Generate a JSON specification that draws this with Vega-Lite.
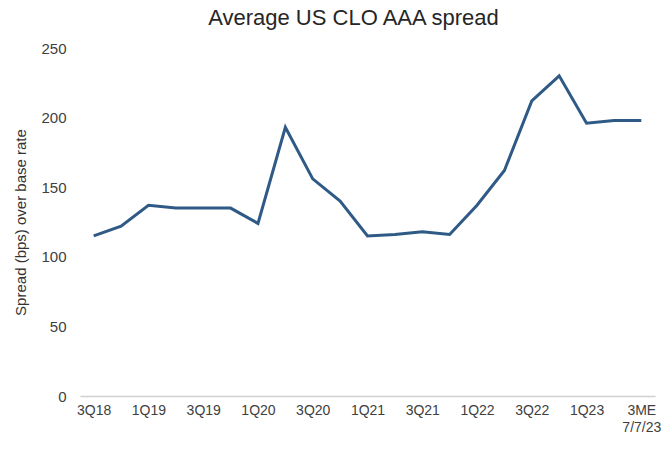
{
  "$schema": "https://vega.github.io/schema/vega-lite/v6.json",
  "autosize": {"type": "none"},
  "width": 575,
  "height": 348,
  "padding": {"left": 80, "top": 48, "right": 7, "bottom": 55},
  "background": "white",
  "title": {
    "text": "Average US CLO AAA spread",
    "font": "Liberation Sans",
    "fontSize": 22,
    "fontWeight": "normal",
    "color": "#262626",
    "anchor": "middle",
    "dx": -14,
    "offset": 11
  },
  "data": {
    "values": [
      {"period": "3Q18", "spread": 115},
      {"period": "4Q18", "spread": 122},
      {"period": "1Q19", "spread": 137},
      {"period": "2Q19", "spread": 135},
      {"period": "3Q19", "spread": 135},
      {"period": "4Q19", "spread": 135},
      {"period": "1Q20", "spread": 124},
      {"period": "2Q20", "spread": 193},
      {"period": "3Q20", "spread": 156},
      {"period": "4Q20", "spread": 140},
      {"period": "1Q21", "spread": 115},
      {"period": "2Q21", "spread": 116},
      {"period": "3Q21", "spread": 118},
      {"period": "4Q21", "spread": 116},
      {"period": "1Q22", "spread": 137},
      {"period": "2Q22", "spread": 162},
      {"period": "3Q22", "spread": 212},
      {"period": "4Q22", "spread": 230},
      {"period": "1Q23", "spread": 196},
      {"period": "2Q23", "spread": 198},
      {"period": "3ME 7/7/23", "spread": 198}
    ]
  },
  "mark": {"type": "line", "color": "#2f5a86", "strokeWidth": 3, "strokeJoin": "miter"},
  "encoding": {
    "x": {
      "field": "period",
      "type": "ordinal",
      "sort": null,
      "scale": {"type": "point", "padding": 0.5},
      "axis": {
        "title": null,
        "values": ["3Q18", "1Q19", "3Q19", "1Q20", "3Q20", "1Q21", "3Q21", "1Q22", "3Q22", "1Q23", "3ME 7/7/23"],
        "labelExpr": "datum.label == '3ME 7/7/23' ? ['3ME', '7/7/23'] : datum.label",
        "labelAngle": 0,
        "labelFont": "Liberation Sans",
        "labelFontSize": 14,
        "labelColor": "#404040",
        "labelPadding": 7,
        "labelLineHeight": 17,
        "ticks": false,
        "domainColor": "#d0d0d0",
        "domainWidth": 1.5,
        "grid": false
      }
    },
    "y": {
      "field": "spread",
      "type": "quantitative",
      "scale": {"domain": [0, 250], "nice": false},
      "axis": {
        "title": "Spread (bps) over base rate",
        "titleFont": "Liberation Sans",
        "titleFontSize": 15,
        "titleFontWeight": "normal",
        "titleColor": "#333333",
        "titlePadding": 12,
        "values": [0, 50, 100, 150, 200, 250],
        "labelFont": "Liberation Sans",
        "labelFontSize": 15,
        "labelColor": "#404040",
        "labelPadding": 14,
        "ticks": false,
        "domain": false,
        "grid": false
      }
    }
  },
  "config": {"view": {"stroke": null}}
}
